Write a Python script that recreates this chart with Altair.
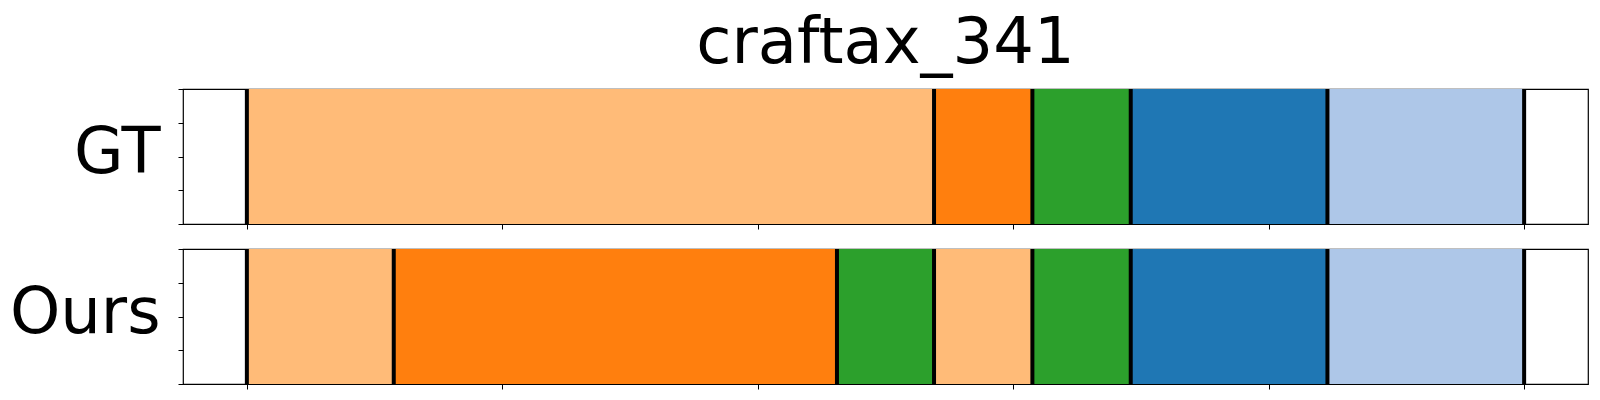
import altair as alt
import pandas as pd

# Segment boundaries (as % of the sequence) and segment classes
gt_bounds = [0, 53.8, 61.5, 69.2, 84.6, 100]
gt_classes = ["c0", "c1", "c2", "c3", "c4"]
ours_bounds = [0, 11.5, 46.2, 53.8, 61.5, 69.2, 84.6, 100]
ours_classes = ["c0", "c1", "c2", "c0", "c2", "c3", "c4"]

class_names = ["c0", "c1", "c2", "c3", "c4"]
class_colors = ["#ffbb78", "#ff7f0e", "#2ca02c", "#1f77b4", "#aec7e8"]
x_ticks = [0, 20, 40, 60, 80, 100]
y_ticks = [0, 0.25, 0.5, 0.75, 1]

W = 1405
H = 135
FONT = "DejaVu Sans"


def panel(bounds, classes, name):
    segs = pd.DataFrame({
        "start": bounds[:-1],
        "end": bounds[1:],
        "cls": classes,
        "y0": [0] * len(classes),
        "y1": [1] * len(classes),
    })
    edges = pd.DataFrame({"pos": bounds})
    xscale = alt.Scale(domain=[-5, 105], nice=False, zero=False)
    xaxis = alt.Axis(values=x_ticks, labels=False, title=None, tickSize=5,
                     tickColor="black", domain=False, grid=False, tickWidth=1)
    yaxis = alt.Axis(values=y_ticks, labels=False, title=name, titleAngle=0,
                     titleFontSize=64, titleFont=FONT, titleFontWeight="normal",
                     titleColor="black", titleAlign="right", titleBaseline="middle",
                     titleX=-23, titleY=H / 2 - 3, tickSize=5, tickColor="black",
                     domain=False, grid=False, tickWidth=1)
    rects = alt.Chart(segs).mark_rect().encode(
        x=alt.X("start:Q", scale=xscale, axis=xaxis),
        x2="end:Q",
        y=alt.Y("y0:Q", scale=alt.Scale(domain=[0, 1], nice=False), axis=yaxis),
        y2="y1:Q",
        color=alt.Color("cls:N", scale=alt.Scale(domain=class_names, range=class_colors), legend=None),
    )
    rules = alt.Chart(edges).mark_rule(color="black", strokeWidth=4).encode(
        x=alt.X("pos:Q", scale=xscale, axis=xaxis),
        y=alt.value(0),
        y2=alt.value(H),
    )
    return (rects + rules).properties(width=W, height=H)


chart = alt.vconcat(
    panel(gt_bounds, gt_classes, "GT"),
    panel(ours_bounds, ours_classes, "Ours"),
    spacing=15,
).properties(
    title=alt.TitleParams("craftax_341", fontSize=64, font=FONT, fontWeight="normal",
                          color="black", anchor="middle", frame="group", offset=10),
    padding={"top": 4, "left": 0, "right": 0, "bottom": 0},
).configure(
    background="white"
).configure_view(
    stroke="black", strokeWidth=1.2
)

chart.save("out.html", embed_options={"renderer": "svg", "actions": False})
